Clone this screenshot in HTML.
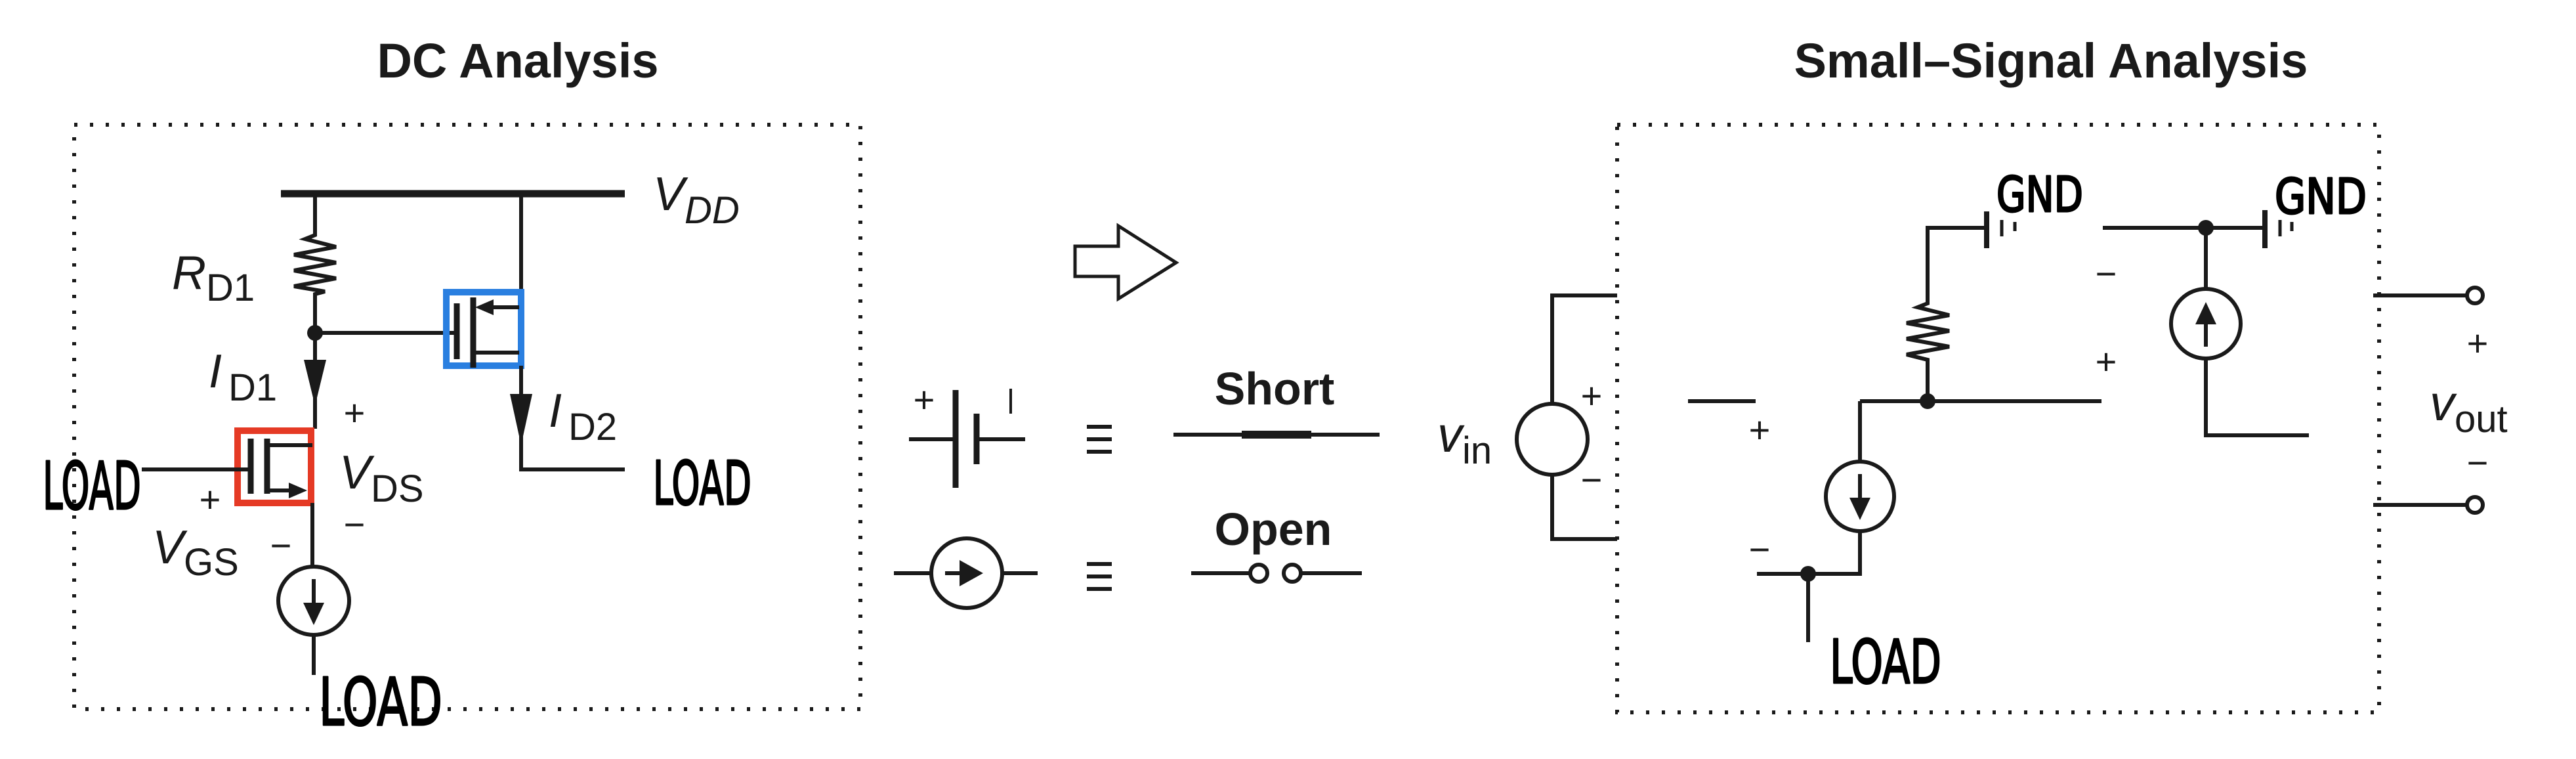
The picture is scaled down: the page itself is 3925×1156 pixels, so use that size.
<!DOCTYPE html>
<html><head><meta charset="utf-8"><style>
html,body{margin:0;padding:0;background:#fff}
svg{display:block}
text{font-family:"Liberation Sans",sans-serif;fill:#1a1a1a}
.b{font-weight:bold}
.hw{font-family:"DejaVu Sans","Liberation Sans",sans-serif;font-weight:normal;fill:#000;stroke:#000;stroke-width:3;stroke-linejoin:round}
</style></head><body>
<svg width="3925" height="1156" viewBox="0 0 3925 1156" xmlns="http://www.w3.org/2000/svg">
<g stroke="#1a1a1a" stroke-width="6" fill="none" stroke-linecap="butt">
<rect x="113" y="190" width="1198" height="890" stroke-dasharray="5 19" stroke-width="6"/>
<rect x="2464" y="190" width="1161" height="895" stroke-dasharray="5 19" stroke-width="6"/>

<line x1="428" y1="295" x2="952" y2="295" stroke-width="11"/>
<polyline points="480,295 480,358 465,364 512,376 448,388 512,400 448,412 512,424 448,436 495,444 480,448 480,653"/>
<line x1="480" y1="507" x2="696" y2="507"/>
<circle cx="480" cy="507" r="12" fill="#1a1a1a" stroke="none"/>
<polygon points="463,548 497,548 480,618" fill="#1a1a1a" stroke="none"/>
<rect x="362" y="656" width="112" height="110" stroke="#e53a25" stroke-width="10"/>
<line x1="382" y1="668" x2="382" y2="752" stroke-width="9"/>
<line x1="407" y1="668" x2="407" y2="752" stroke-width="9"/>
<line x1="407" y1="678" x2="476" y2="678"/>
<line x1="407" y1="747" x2="445" y2="747"/>
<polygon points="440,735 468,747 440,759" fill="#1a1a1a" stroke="none"/>
<line x1="216" y1="715" x2="382" y2="715"/>
<line x1="476" y1="766" x2="476" y2="863"/>
<ellipse cx="478" cy="915" rx="54" ry="52"/>
<line x1="478" y1="882" x2="478" y2="920"/>
<polygon points="462,918 494,918 478,952" fill="#1a1a1a" stroke="none"/>
<line x1="478" y1="967" x2="478" y2="1028"/>
<line x1="794" y1="295" x2="794" y2="442"/>
<rect x="680" y="445" width="114" height="112" stroke="#2a7fe0" stroke-width="10"/>
<line x1="696" y1="462" x2="696" y2="547" stroke-width="9"/>
<line x1="721" y1="453" x2="721" y2="560" stroke-width="9"/>
<line x1="740" y1="468" x2="791" y2="468"/>
<polygon points="724,468 752,456 752,480" fill="#1a1a1a" stroke="none"/>
<line x1="721" y1="537" x2="791" y2="537"/>
<polyline points="794,557 794,715 952,715"/>
<polygon points="777,600 811,600 794,678" fill="#1a1a1a" stroke="none"/>

<polygon points="1638,375 1704,375 1704,344 1792,400 1704,455 1704,421 1638,421" stroke-width="5"/>
<line x1="1385" y1="669" x2="1456" y2="669"/>
<line x1="1456" y1="594" x2="1456" y2="743" stroke-width="9"/>
<line x1="1488" y1="630" x2="1488" y2="707" stroke-width="9"/>
<line x1="1488" y1="669" x2="1562" y2="669"/>
<line x1="1540" y1="592" x2="1540" y2="630" stroke-width="4"/>
<g stroke-width="6"><line x1="1656" y1="650" x2="1694" y2="650"/><line x1="1656" y1="669" x2="1694" y2="669"/><line x1="1656" y1="688" x2="1694" y2="688"/>
<line x1="1656" y1="859" x2="1694" y2="859"/><line x1="1656" y1="878" x2="1694" y2="878"/><line x1="1656" y1="897" x2="1694" y2="897"/></g>
<line x1="1788" y1="662" x2="2102" y2="662"/>
<line x1="1892" y1="662" x2="1998" y2="662" stroke-width="12"/>
<line x1="1362" y1="873" x2="1419" y2="873"/>
<ellipse cx="1473" cy="873" rx="54" ry="53"/>
<line x1="1440" y1="873" x2="1470" y2="873"/>
<polygon points="1462,853 1462,893 1498,873" fill="#1a1a1a" stroke="none"/>
<line x1="1527" y1="873" x2="1581" y2="873"/>
<line x1="1815" y1="873" x2="1904" y2="873"/>
<circle cx="1918" cy="873" r="13"/><circle cx="1969" cy="873" r="13"/>
<line x1="1982" y1="873" x2="2075" y2="873"/>
<polyline points="2464,450 2365,450 2365,615"/>
<circle cx="2365" cy="669" r="54"/>
<polyline points="2365,723 2365,821 2464,821"/>

<line x1="2572" y1="611" x2="2675" y2="611"/>
<polyline points="3023,347 2937,347 2937,462 2922,468 2970,480 2905,492 2970,504 2905,516 2970,528 2905,540 2937,548 2937,611"/>
<line x1="3027" y1="322" x2="3027" y2="378" stroke-width="8"/>
<line x1="3050" y1="335" x2="3050" y2="360" stroke-width="5"/>
<line x1="3070" y1="338" x2="3070" y2="352" stroke-width="5"/>
<line x1="2834" y1="611" x2="3202" y2="611"/>
<circle cx="2937" cy="611" r="12" fill="#1a1a1a" stroke="none"/>
<line x1="2834" y1="611" x2="2834" y2="702"/>
<ellipse cx="2834" cy="756" rx="52" ry="53"/>
<line x1="2834" y1="722" x2="2834" y2="760"/>
<polygon points="2818,758 2850,758 2834,792" fill="#1a1a1a" stroke="none"/>
<polyline points="2834,809 2834,874 2677,874"/>
<circle cx="2755" cy="874" r="12" fill="#1a1a1a" stroke="none"/>
<line x1="2755" y1="874" x2="2755" y2="978"/>
<line x1="3204" y1="347" x2="3451" y2="347"/>
<line x1="3451" y1="320" x2="3451" y2="378" stroke-width="8"/>
<line x1="3474" y1="335" x2="3474" y2="360" stroke-width="5"/>
<line x1="3492" y1="338" x2="3492" y2="352" stroke-width="5"/>
<circle cx="3361" cy="347" r="12" fill="#1a1a1a" stroke="none"/>
<line x1="3361" y1="347" x2="3361" y2="440"/>
<ellipse cx="3361" cy="493" rx="53" ry="53"/>
<line x1="3361" y1="490" x2="3361" y2="528"/>
<polygon points="3345,494 3377,494 3361,460" fill="#1a1a1a" stroke="none"/>
<polyline points="3361,546 3361,663 3518,663"/>
<line x1="3616" y1="450" x2="3759" y2="450"/>
<circle cx="3771" cy="450" r="12"/>
<line x1="3616" y1="769" x2="3759" y2="769"/>
<circle cx="3771" cy="769" r="12"/>
</g>

<text x="789" y="118" font-size="74" class="b" text-anchor="middle">DC Analysis</text>
<text x="3125" y="118" font-size="74" class="b" text-anchor="middle">Small–Signal Analysis</text>
<text x="995" y="320" font-size="72" font-style="italic">V<tspan font-size="58" dy="20">DD</tspan></text>
<text x="262" y="440" font-size="72" font-style="italic">R<tspan font-size="58" dy="18" font-style="normal">D1</tspan></text>
<text x="318" y="590" font-size="72" font-style="italic">I<tspan font-size="58" dy="20" font-style="normal" dx="10">D1</tspan></text>
<text x="836" y="650" font-size="72" font-style="italic">I<tspan font-size="58" dy="20" font-style="normal" dx="10">D2</tspan></text>
<text x="540" y="648" font-size="56" text-anchor="middle">+</text>
<text x="517" y="744" font-size="72" font-style="italic">V<tspan font-size="58" dy="20" font-style="normal">DS</tspan></text>
<text x="540" y="818" font-size="56" text-anchor="middle">−</text>
<text x="320" y="780" font-size="56" text-anchor="middle">+</text>
<text x="232" y="858" font-size="72" font-style="italic">V<tspan font-size="58" dy="18" font-style="normal">GS</tspan></text>
<text x="428" y="850" font-size="56" text-anchor="middle">−</text>
<text x="1408" y="628" font-size="56" text-anchor="middle">+</text>
<text x="1942" y="616" font-size="70" class="b" text-anchor="middle">Short</text>
<text x="1940" y="830" font-size="70" class="b" text-anchor="middle">Open</text>
<text x="2190" y="688" font-size="76" font-style="italic">v<tspan font-size="58" dy="18" font-style="normal">in</tspan></text>
<text x="2425" y="622" font-size="56" text-anchor="middle">+</text>
<text x="2425" y="750" font-size="56" text-anchor="middle">−</text>
<text x="2681" y="674" font-size="56" text-anchor="middle">+</text>
<text x="2681" y="856" font-size="56" text-anchor="middle">−</text>
<text x="3209" y="436" font-size="56" text-anchor="middle">−</text>
<text x="3209" y="570" font-size="56" text-anchor="middle">+</text>
<text x="3775" y="542" font-size="56" text-anchor="middle">+</text>
<text x="3702" y="640" font-size="76" font-style="italic">v<tspan font-size="58" dy="18" font-style="normal">out</tspan></text>
<text x="3775" y="724" font-size="56" text-anchor="middle">−</text>

<text class="hw" x="65" y="775" font-size="100" textLength="150" lengthAdjust="spacingAndGlyphs">LOAD</text>
<text class="hw" x="995" y="768" font-size="92" textLength="150" lengthAdjust="spacingAndGlyphs">LOAD</text>
<text class="hw" x="486" y="1104" font-size="100" textLength="188" lengthAdjust="spacingAndGlyphs">LOAD</text>
<text class="hw" x="2788" y="1040" font-size="92" textLength="170" lengthAdjust="spacingAndGlyphs">LOAD</text>
<text class="hw" x="3042" y="322" font-size="74" textLength="132" lengthAdjust="spacingAndGlyphs">GND</text>
<text class="hw" x="3466" y="325" font-size="74" textLength="140" lengthAdjust="spacingAndGlyphs">GND</text>
</svg>
</body></html>
